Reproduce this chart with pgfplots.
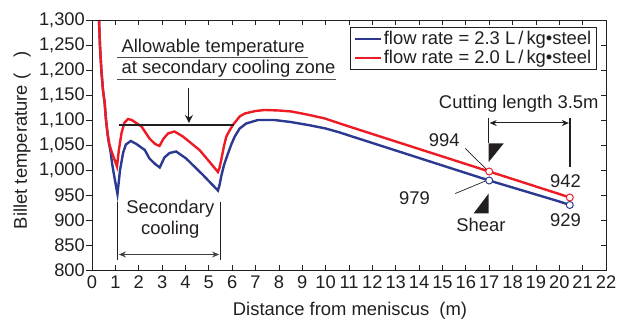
\documentclass[border=0pt]{standalone}
\usepackage{fontspec}
\setmainfont{Liberation Sans}
\usepackage{pgfplots}
\pgfplotsset{compat=1.18}
\usetikzlibrary{arrows.meta}
\definecolor{cblue}{RGB}{43,57,144}
\definecolor{cred}{RGB}{237,28,36}
\definecolor{ctext}{RGB}{35,31,32}
\newcommand{\fs}{\fontsize{18.4}{22}\selectfont}
\newcommand{\ft}{\fontsize{18.3}{21}\selectfont}
\begin{document}
\begin{tikzpicture}
\begin{axis}[
 name=main,
 width=514pt, height=250pt, scale only axis,
 xmin=0, xmax=22, ymin=800, ymax=1300,
 xtick={0,...,22}, ytick={800,850,...,1300},
 tick align=inside, xtick pos=both, ytick pos=right, yticklabels={},
 major tick length=5pt,
 tick style={line width=0.8pt, color=ctext},
 axis line style={line width=0.8pt, ctext},
 /pgf/number format/assume math mode=true,
 ticklabel style={font=\ft, text=ctext},
 xticklabel style={yshift=-2pt},
 xlabel={Distance from meniscus\ \ (m)},
 xlabel style={at={(axis description cs:0.502,-0.164)}, anchor=center, font=\fs, text=ctext},
 legend style={at={(rel axis cs:1,1)}, anchor=north east, xshift=-9pt, yshift=-7pt,
   draw=ctext, line width=0.8pt, font=\fs, text=ctext, inner xsep=3pt, inner ysep=1.5pt,
   nodes={inner sep=2.3pt}},
 legend cell align=left,
 legend image code/.code={\draw[#1, line width=1.8pt] (0pt,0pt) -- (26pt,0pt);},
]
\addplot[cblue, line width=2.4pt] coordinates {
(0.30,1300) (0.34,1250) (0.40,1200) (0.47,1160) (0.54,1135) (0.60,1100) (0.67,1070)
(0.72,1055) (0.80,1035) (0.86,1013) (0.95,988) (1.09,952) (1.2,1000) (1.33,1034)
(1.45,1051) (1.66,1058) (1.9,1052) (2.26,1040) (2.46,1023) (2.7,1012) (2.9,1005)
(3.1,1025) (3.32,1034) (3.6,1037) (4.03,1023) (4.75,990) (5.1,973) (5.39,959)
(5.46,970) (5.53,987) (5.65,1010) (5.82,1033) (5.97,1052) (6.11,1067) (6.32,1083)
(6.6,1093) (7.1,1100) (7.8,1100) (8.5,1096) (9.25,1090) (10,1083) (10.61,1075)
(11,1069) (12,1054) (13,1039) (14,1024) (15,1009) (16,994) (17,979) (18,965)
(19,951) (20,937) (20.45,930)};
\addlegendentry{flow rate = 2.3 L\,/\,kg•steel}
\addplot[cred, line width=2.4pt] coordinates {
(0.30,1300) (0.34,1250) (0.40,1200) (0.47,1160) (0.54,1135) (0.60,1100) (0.67,1072)
(0.74,1052) (0.83,1038) (0.97,1020) (1.07,1007) (1.15,1040) (1.26,1073) (1.38,1094)
(1.54,1102) (1.7,1100) (2.12,1087) (2.46,1063) (2.7,1052) (2.89,1048) (3.05,1062)
(3.25,1073) (3.53,1077) (3.89,1067) (4.6,1040) (5.0,1018) (5.39,996) (5.45,1003)
(5.53,1020) (5.65,1048) (5.75,1067) (5.9,1080) (6.03,1090) (6.32,1107) (6.54,1113)
(7.0,1118) (7.4,1120) (8.0,1119) (8.54,1117) (9.3,1110) (9.97,1103) (10.61,1093)
(11,1087) (12,1072) (13,1057) (14,1042) (15,1027) (16,1012) (17,997) (18,982)
(19,967) (20,952) (20.45,945)};
\addlegendentry{flow rate = 2.0 L\,/\,kg•steel}
\addplot[only marks, mark=*, mark size=3.5pt, cred, mark options={fill=white, draw=cred, line width=1pt}, forget plot] coordinates {(17,997) (20.45,945)};
\addplot[only marks, mark=*, mark size=3.5pt, cblue, mark options={fill=white, draw=cblue, line width=1pt}, forget plot] coordinates {(17,979) (20.45,930)};
% allowable temperature
\draw[ctext, line width=2pt] (axis cs:1.17,1090) -- (axis cs:6.08,1090);
\draw[ctext, line width=1pt, -{Stealth[length=8pt,width=8pt]}] (axis cs:4.15,1164) -- (axis cs:4.15,1094);
\node[anchor=base west, font=\fs, text=ctext, inner sep=0pt] at (axis cs:1.26,1235) {Allowable temperature};
\node[anchor=base west, font=\fs, text=ctext, inner sep=0pt] at (axis cs:1.26,1192) {at secondary cooling zone};
\draw[gray!60!black, line width=1pt] (axis cs:1.09,1224) -- (axis cs:9.24,1224);
\draw[gray!60!black, line width=1pt] (axis cs:1.09,1180) -- (axis cs:10.45,1180);
% secondary cooling
\draw[ctext, line width=1.5pt] (axis cs:1.1,935) -- (axis cs:1.1,820);
\draw[ctext, line width=1.5pt] (axis cs:5.49,935) -- (axis cs:5.49,820);
\draw[gray!50!black, line width=1pt, {Stealth[length=7pt,width=6pt]}-{Stealth[length=7pt,width=6pt]}] (axis cs:1.15,831) -- (axis cs:5.44,831);
\node[anchor=base, font=\fs, text=ctext, inner sep=0pt] at (axis cs:3.35,913) {Secondary};
\node[anchor=base, font=\fs, text=ctext, inner sep=0pt] at (axis cs:3.35,870) {cooling};
% cutting length
\node[anchor=base east, font=\fs, text=ctext, inner sep=0pt] at (axis cs:21.69,1123) {Cutting length 3.5m};
\draw[ctext, line width=1.5pt] (axis cs:16.98,1104) -- (axis cs:16.98,1053);
\draw[ctext, line width=1.5pt] (axis cs:20.45,1104) -- (axis cs:20.45,1006);
\draw[ctext, line width=1pt, {Stealth[length=7pt,width=6pt]}-{Stealth[length=7pt,width=6pt]}] (axis cs:17.02,1094) -- (axis cs:20.41,1094);
\fill[ctext] (axis cs:16.98,1053) -- (axis cs:17.62,1053) -- (axis cs:16.98,1016) -- cycle;
\fill[ctext] (axis cs:16.33,913) -- (axis cs:16.98,913) -- (axis cs:16.98,953) -- cycle;
\node[anchor=center, font=\fs, text=ctext, inner sep=0pt] at (axis cs:15.08,1060) {994};
\draw[ctext, line width=0.7pt] (axis cs:15.98,1043) -- (axis cs:16.91,1000);
\node[anchor=center, font=\fs, text=ctext, inner sep=0pt] at (axis cs:13.8,944) {979};
\draw[ctext, line width=0.7pt] (axis cs:15.55,953) -- (axis cs:16.84,978);
\node[anchor=center, font=\fs, text=ctext, inner sep=0pt] at (axis cs:16.65,890) {Shear};
\node[anchor=center, font=\fs, text=ctext, inner sep=0pt] at (axis cs:20.27,978) {942};
\node[anchor=center, font=\fs, text=ctext, inner sep=0pt] at (axis cs:20.27,900) {929};
\coordinate (SW) at (rel axis cs:0,0);
\end{axis}
\begin{axis}[
 width=514pt, height=250pt, scale only axis,
 xmin=0, xmax=22, ymin=800, ymax=1300,
 xtick=\empty, ytick={800,850,...,1300},
 tick align=outside, ytick pos=left,
 major tick length=6pt,
 tick style={line width=0.8pt, color=ctext},
 axis line style={line width=0.8pt, ctext},
 /pgf/number format/assume math mode=true,
 /pgf/number format/1000 sep={,},
 ticklabel style={font=\ft, text=ctext},
 yticklabel style={inner sep=1pt},
 ylabel={Billet temperature (\hspace{0.9em})},
 ylabel style={at={(axis description cs:-0.136,0.52)}, anchor=center, font=\fs, text=ctext},
]
\end{axis}
\pgfresetboundingbox
\useasboundingbox (SW) ++(-92pt,-50pt) rectangle ++(629pt,320pt);
\end{tikzpicture}
\end{document}
